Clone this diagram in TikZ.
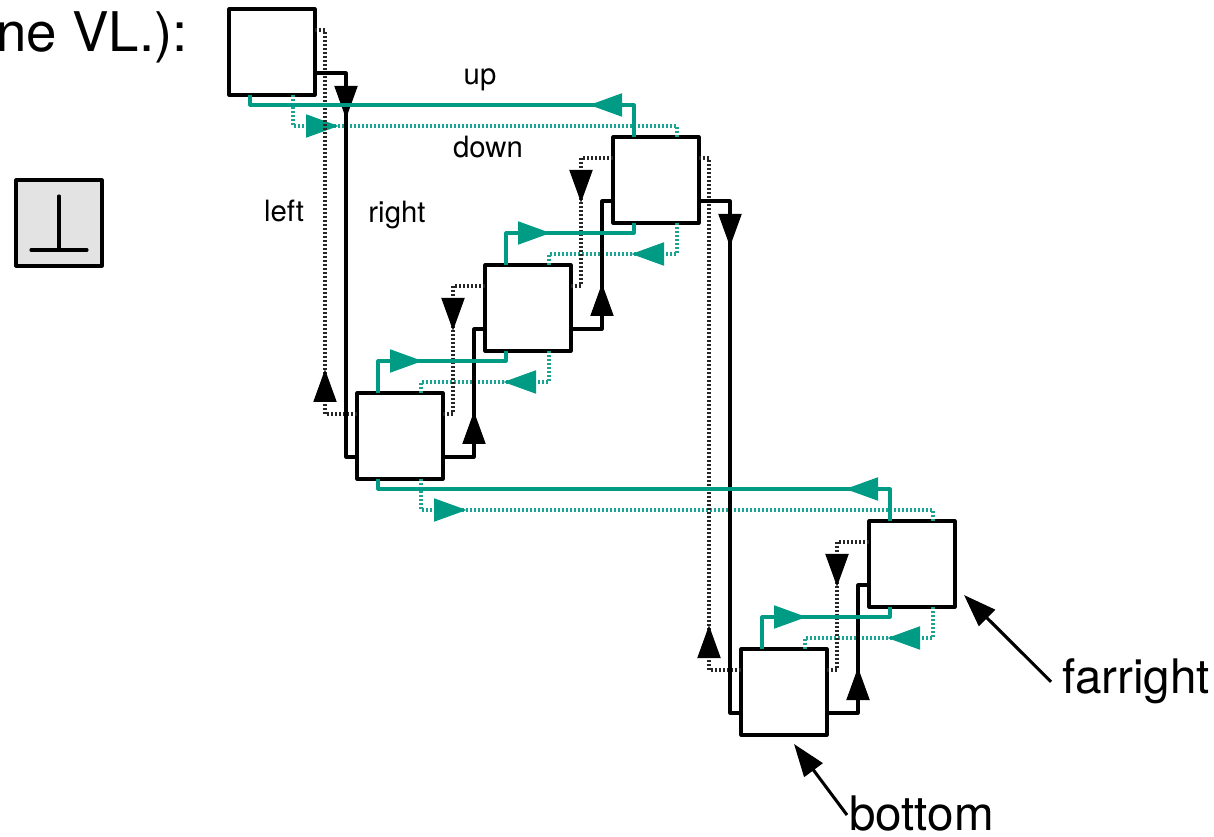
\documentclass[tikz,border=0pt]{standalone}
\usepackage{fontspec}
\setmainfont{TeX Gyre Heros}
\usetikzlibrary{arrows.meta,calc,decorations.markings}
\definecolor{linkgreen}{HTML}{009B85}
\tikzset{
  cell/.style={draw,line width=2.3pt,fill=white,minimum size=64.5pt,inner sep=0pt,outer sep=0pt,line join=round},
  gndcell/.style={cell,fill=black!11},
  link/.style={line join=round,line width=2.3pt,postaction={decorate,decoration={markings,
      mark=at position 57.5pt with {\arrow[#1]{Triangle[length=24.5pt,width=17pt,sep=0pt]}}}}},
  solidblack/.style={link=black,draw=black},
  dotblack/.style={link=black,draw=black!85,dash pattern=on 1.5pt off 1.5pt},
  solidgreen/.style={link=linkgreen,draw=linkgreen},
  dotgreen/.style={link=linkgreen,draw=linkgreen!90,dash pattern=on 1.5pt off 1.5pt},
  small/.style={font=\fontsize{22}{26}\selectfont,inner sep=0pt,anchor=base},
  large/.style={font=\fontsize{35.7}{42}\selectfont,inner sep=0pt,anchor=base west},
  pointer/.style={line width=2.3pt,-{Triangle[length=24.5pt,width=17pt,sep=0pt]}}
}
\begin{document}
\begin{tikzpicture}[x=0.75pt,y=0.75pt]
      \useasboundingbox (0,0) rectangle (1214,-837);

      % cells
      \node[cell] (A) at (272,-52) {};
      \node[cell] (B) at (656,-180) {};
      \node[cell] (C) at (528,-308) {};
      \node[cell] (D) at (400,-436) {};
      \node[cell] (E) at (912,-564) {};
      \node[cell] (F) at (784,-692) {};

      % two ports on every side
      \foreach \c in {A,B,C,D,E,F} {
        \coordinate (\c-topl) at ($(\c.north west)+(21,0)$);
        \coordinate (\c-topr) at ($(\c.north east)+(-22,0)$);
        \coordinate (\c-botl) at ($(\c.south west)+(21,0)$);
        \coordinate (\c-botr) at ($(\c.south east)+(-22,0)$);
        \coordinate (\c-lefu) at ($(\c.north west)+(0,-21)$);
        \coordinate (\c-lefd) at ($(\c.south west)+(0,22)$);
        \coordinate (\c-rigu) at ($(\c.north east)+(0,-21)$);
        \coordinate (\c-rigd) at ($(\c.south east)+(0,22)$);
      }

      % links, in stacking order
      \foreach \s/\t in {C/D,B/C,E/F,A/B,D/E}
        \draw[dotgreen] (\s-botr) -- ++(0,-31) -| (\t-topr);
      \foreach \s/\t in {D/A,C/D,B/C,F/B,E/F}
        \draw[dotblack] (\s-lefu) -- ++(-32,0) |- (\t-rigu);
      \foreach \s/\t in {A/D,D/C,C/B,B/F,F/E}
        \draw[solidblack] (\s-rigd) -- ++(31,0) |- (\t-lefd);
      \foreach \s/\t in {D/C,C/B,F/E,B/A,E/D}
        \draw[solidgreen] (\s-topl) -- ++(0,32) -| (\t-botl);

      \node[small] (uplabel) at (480,-85) {up};
      \node[small] (downlabel) at (488,-158) {down};
      \node[small] (leftlabel) at (284,-222) {left};
      \node[small] (rightlabel) at (397,-223) {right};

      % null cell
      \node[gndcell] (gnd) at (59,-223) {};
      \draw[line width=2.3pt,line cap=round] ($(gnd)+(0,27)$) -- ($(gnd)+(0,-27)$);
      \draw[line width=2.3pt,line cap=round] ($(gnd)+(-28,-27)$) -- ($(gnd)+(28,-27)$);

      \node[large,font=\fontsize{41}{48}\selectfont,anchor=base east] (caption) at (188,-52) {ne VL.):};

      \node[large] (farright) at (1062,-693) {farright};
      \node[large] (bottom) at (849,-830) {bottom};
      \coordinate (farrighttip) at (964,-595);
      \coordinate (bottomtip) at (794,-744);
      \draw[pointer] (farright.west) ++(-11,-1) -- (farrighttip);
      \draw[pointer] (bottom.west) ++(-2,-2) -- (bottomtip);
    \end{tikzpicture}
\end{document}
